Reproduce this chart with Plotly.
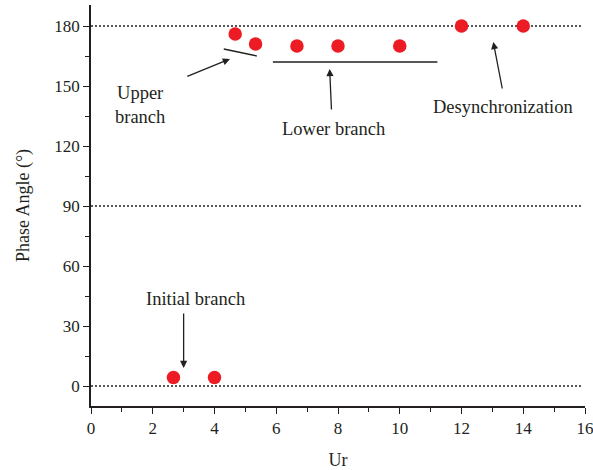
import plotly.graph_objects as go

# Measured phase angle versus reduced velocity
ur = [2.67, 4.0, 4.67, 5.33, 6.67, 8.0, 10.0, 12.0, 14.0]
phase = [4.3, 4.3, 176, 171, 170, 170, 170, 180, 180]

# Reference levels drawn as dotted lines
ref_levels = [0, 90, 180]

# Branch marker segments (x0, y0, x1, y1)
upper_seg = (4.30, 168.5, 5.37, 165.0)
lower_seg = (5.89, 162.0, 11.22, 162.0)

FONT = "Liberation Serif"
INK = "#231f20"

fig = go.Figure()

fig.add_trace(go.Scatter(
    x=ur, y=phase, mode="markers",
    marker=dict(color="#ed1c24", size=13.5, line=dict(width=0)),
    showlegend=False, hoverinfo="x+y",
))

shapes = []
for lv in ref_levels:
    shapes.append(dict(type="line", xref="x", yref="y", x0=0, x1=15.9, y0=lv, y1=lv,
                       line=dict(color=INK, width=1.3, dash="2px,2px"), layer="below"))
for seg in (upper_seg, lower_seg):
    shapes.append(dict(type="line", xref="x", yref="y", x0=seg[0], y0=seg[1],
                       x1=seg[2], y1=seg[3], line=dict(color=INK, width=1.4)))

annotations = [
    # arrows: (tip x, tip y, tail x, tail y)
    dict(x=4.5, y=163.5, ax=3.07, ay=154.5),
    dict(x=7.73, y=158.5, ax=7.79, ay=137.5),
    dict(x=13.03, y=172.0, ax=13.33, ay=148.0),
    dict(x=3.0, y=9.0, ax=3.0, ay=37.0),
]
annotations = [dict(a, xref="x", yref="y", axref="x", ayref="y", text="", showarrow=True,
                    arrowhead=2, arrowsize=1.1, arrowwidth=1.3, arrowcolor=INK)
               for a in annotations]

labels = [
    ("Upper<br>branch", 1.6, 140.5),
    ("Lower branch", 7.85, 128.5),
    ("Desynchronization", 13.36, 139.5),
    ("Initial branch", 3.4, 43.5),
]
for text, x, y in labels:
    annotations.append(dict(x=x, y=y, xref="x", yref="y", text=text, showarrow=False,
                            font=dict(family=FONT, size=18.5, color=INK)))

fig.update_layout(
    width=593, height=470,
    margin=dict(l=91, r=8, t=5, b=64),
    plot_bgcolor="white", paper_bgcolor="white",
    font=dict(family=FONT, size=17, color=INK),
    shapes=shapes, annotations=annotations,
    showlegend=False,
)

fig.update_xaxes(
    range=[0, 16], tickvals=list(range(0, 17, 2)), automargin=False,
    ticklabeloverflow="allow",
    showgrid=False, zeroline=False, showline=True, linecolor=INK, linewidth=1.6,
    ticks="outside", ticklen=6, tickwidth=1.4, tickcolor=INK,
    minor=dict(tickvals=list(range(1, 16, 2)), ticks="outside", ticklen=4,
               tickwidth=1.2, tickcolor=INK, showgrid=False),
    title=dict(text="Ur", font=dict(family=FONT, size=18, color=INK), standoff=16),
    tickfont=dict(family=FONT, size=17, color=INK),
)
fig.update_yaxes(
    range=[-10, 190.5], tickvals=list(range(0, 181, 30)), automargin=False,
    showgrid=False, zeroline=False, showline=True, linecolor=INK, linewidth=1.6,
    ticks="outside", ticklen=6, tickwidth=1.4, tickcolor=INK,
    minor=dict(tickvals=list(range(15, 190, 30)), ticks="outside", ticklen=4,
               tickwidth=1.2, tickcolor=INK, showgrid=False),
    title=dict(text="Phase Angle (°)", font=dict(family=FONT, size=18, color=INK), standoff=20),
    tickfont=dict(family=FONT, size=17, color=INK),
)

fig.write_html("out.html")
